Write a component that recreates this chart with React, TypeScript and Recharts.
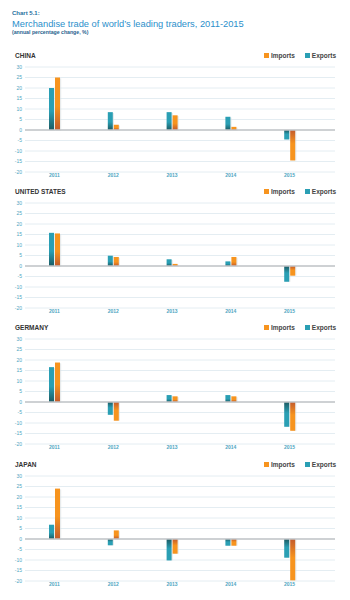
import React from "react";
import { BarChart, Bar, XAxis, YAxis, CartesianGrid, ReferenceLine } from "recharts";

const years = ["2011", "2012", "2013", "2014", "2015"];
const yTicks = [-20, -15, -10, -5, 0, 5, 10, 15, 20, 25, 30];

const chinaExports = [20, 8.5, 8.5, 6.3, -4.5];
const chinaImports = [25, 2.5, 7, 1.5, -14.5];
const usExports = [15.8, 4.9, 3.2, 2.2, -7.5];
const usImports = [15.5, 4.3, 1, 4.3, -4.6];
const germanyExports = [16.6, -6.1, 3.3, 3.3, -11.8];
const germanyImports = [18.8, -8.9, 2.7, 2.7, -13.7];
const japanExports = [6.8, -3, -10.2, -3.2, -8.9];
const japanImports = [24, 4.1, -7, -3.2, -19.7];

const panels = [
  { id: "cn", name: "CHINA", exp: chinaExports, imp: chinaImports },
  { id: "us", name: "UNITED STATES", exp: usExports, imp: usImports },
  { id: "de", name: "GERMANY", exp: germanyExports, imp: germanyImports },
  { id: "jp", name: "JAPAN", exp: japanExports, imp: japanImports },
];

const FONT = "'Liberation Sans', Arial, Helvetica, sans-serif";
const TEAL = "#2a9fb4";
const ORANGE = "#f7941e";
const TICK = "#4fa6c2";

// bar with a gradient that darkens toward the zero line, plus a faint shadow
function GradBar(props: any) {
  const { x, y, width, height, payload, k, pid } = props;
  if (!height) return null;
  const top = Math.min(y, y + height);
  const h = Math.abs(height);
  const neg = payload[k] < 0;
  const fill = `url(#${pid}-${k}-${neg ? "n" : "p"})`;
  return (
    <g>
      <rect x={x + 1.2} y={top + (neg ? 0 : 0.8)} width={width} height={h} fill="#d9dde0" opacity={0.6} />
      <rect x={x} y={top} width={width} height={h} fill={fill} />
    </g>
  );
}

function Grad({ id, light, dark, neg }: { id: string; light: string; dark: string; neg: boolean }) {
  const stops = neg
    ? [[0, dark], [0.45, light], [1, light]]
    : [[0, light], [0.55, light], [1, dark]];
  return (
    <linearGradient id={id} x1="0" y1="0" x2="0" y2="1">
      {stops.map(([o, c], i) => (
        <stop key={i} offset={o as number} stopColor={c as string} />
      ))}
    </linearGradient>
  );
}

function Panel({ p, top }: { p: (typeof panels)[number]; top: number }) {
  const data = years.map((yr, i) => ({ year: yr, exp: p.exp[i], imp: p.imp[i] }));
  return (
    <div style={{ position: "absolute", left: 0, top: top - 8, width: 350, height: 129 }}>
      <div style={{ position: "absolute", left: 15, top: -7, fontFamily: FONT, fontSize: 6.5, fontWeight: 700, color: "#333" }}>
        {p.name}
      </div>
      <div style={{ position: "absolute", right: 14, top: -7, fontFamily: FONT, fontSize: 6.5, fontWeight: 700, color: "#444", display: "flex", alignItems: "center" }}>
        <span style={{ width: 5, height: 5, background: ORANGE, display: "inline-block", marginRight: 2 }} />
        <span style={{ marginRight: 10 }}>Imports</span>
        <span style={{ width: 5, height: 5, background: TEAL, display: "inline-block", marginRight: 2 }} />
        <span>Exports</span>
      </div>
      <BarChart width={350} height={129} data={data} margin={{ top: 8, right: 15, bottom: 0, left: 0 }} barSize={5} barGap={1}>
        <defs>
          <Grad id={`${p.id}-exp-p`} light={TEAL} dark="#1b5a62" neg={false} />
          <Grad id={`${p.id}-exp-n`} light={TEAL} dark="#1b5a62" neg={true} />
          <Grad id={`${p.id}-imp-p`} light={ORANGE} dark="#c25a2c" neg={false} />
          <Grad id={`${p.id}-imp-n`} light={ORANGE} dark="#c25a2c" neg={true} />
        </defs>
        <CartesianGrid vertical={false} stroke="#dde9ef" strokeWidth={0.8} />
        <XAxis
          dataKey="year"
          height={16}
          axisLine={false}
          tickLine={false}
          tickSize={0}
          tickMargin={1}
          padding={{ left: 0, right: 16 }}
          tick={{ fill: TICK, fontSize: 5, fontFamily: FONT, fontWeight: 700 }}
        />
        <YAxis
          domain={[-20, 30]}
          ticks={yTicks}
          width={25}
          axisLine={false}
          tickLine={false}
          tickSize={0}
          tickMargin={3}
          interval={0}
          tick={{ fill: TICK, fontSize: 5, fontFamily: FONT }}
        />
        <ReferenceLine y={0} stroke="#c2c5c7" strokeWidth={1.6} />
        <Bar dataKey="exp" name="Exports" fill={TEAL} isAnimationActive={false} shape={(s: any) => <GradBar {...s} k="exp" pid={p.id} />} />
        <Bar dataKey="imp" name="Imports" fill={ORANGE} isAnimationActive={false} shape={(s: any) => <GradBar {...s} k="imp" pid={p.id} />} />
      </BarChart>
    </div>
  );
}

const gridTops = [66.7, 202.9, 339.2, 475.6];

export default function App() {
  return (
    <div style={{ position: "absolute", left: 0, top: 0, width: 350, height: 600, background: "#fff", fontFamily: FONT }}>
      <div style={{ position: "absolute", left: 12, top: 10, fontSize: 6, fontWeight: 700, color: "#1f6f9e" }}>Chart 5.1:</div>
      <div style={{ position: "absolute", left: 12, top: 18.5, fontSize: 9.3, color: "#2b8fcb", whiteSpace: "nowrap" }}>
        Merchandise trade of world’s leading traders, 2011-2015
      </div>
      <div style={{ position: "absolute", left: 12, top: 29, fontSize: 5.2, fontWeight: 700, color: "#1f5f8e", whiteSpace: "nowrap" }}>
        (annual percentage change, %)
      </div>
      {panels.map((p, i) => (
        <Panel key={p.id} p={p} top={gridTops[i]} />
      ))}
    </div>
  );
}
